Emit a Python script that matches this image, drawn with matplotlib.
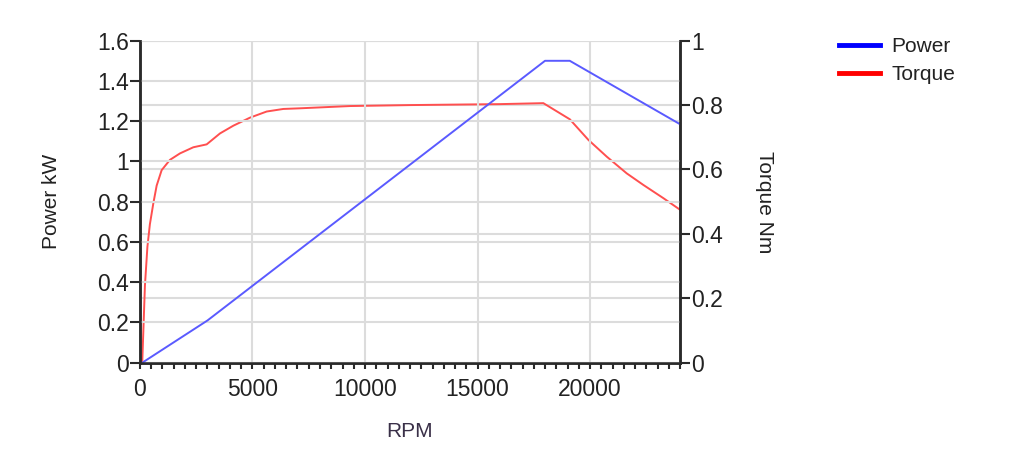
import matplotlib.pyplot as plt
from matplotlib.lines import Line2D
from matplotlib.ticker import MultipleLocator, FuncFormatter

plt.rcParams['font.family'] = ['Liberation Sans', 'DejaVu Sans']

# data
rpm_power = [100, 3000, 18000, 19100, 24000]
power_kw = [0, 0.21, 1.5, 1.5, 1.185]

rpm_torque = [100, 220, 330, 440, 593, 741, 963, 1333, 1778, 2370, 2963,
              3556, 4148, 4889, 5630, 6370, 7111, 9330, 12000, 16000, 17926,
              19100, 19926, 20741, 21630, 22370, 23259, 24000]
torque_nm = [0, 0.24, 0.36, 0.43, 0.495, 0.55, 0.598, 0.63, 0.65, 0.669,
             0.678, 0.712, 0.736, 0.761, 0.78, 0.788, 0.79, 0.797, 0.8,
             0.803, 0.806, 0.756, 0.692, 0.64, 0.588, 0.552, 0.511, 0.475]

TXT = "#222222"
GRID = "#dcdcdc"
AX_COL = "#2a2a2a"

fig = plt.figure(figsize=(10.1, 4.57), dpi=100)
ax = fig.add_axes([0.1386, 0.2063, 0.5347, 0.7047])
ax2 = ax.twinx()
# torque axis behind, power axis on top with see-through background
ax.set_zorder(ax2.get_zorder() + 1)
ax.patch.set_visible(False)

fmt = FuncFormatter(lambda v, p: "%g" % round(v, 2))

ax.plot(rpm_power, power_kw, color="#5a5aff", lw=1.4, solid_joinstyle="round")
ax2.plot(rpm_torque, torque_nm, color="#ff4f4f", lw=1.4, solid_joinstyle="round")

ax.set_xlim(0, 24000)
ax.set_ylim(0, 1.6)
ax2.set_ylim(0, 1.0)

ax.xaxis.set_major_locator(MultipleLocator(5000))
ax.xaxis.set_minor_locator(MultipleLocator(500))
ax.yaxis.set_major_locator(MultipleLocator(0.2))
ax2.yaxis.set_major_locator(MultipleLocator(0.2))
ax.yaxis.set_major_formatter(fmt)
ax2.yaxis.set_major_formatter(fmt)

ax.grid(True, which="major", color=GRID, lw=1.5)
ax2.grid(True, axis="y", color=GRID, lw=1.5)
ax2.set_axisbelow(True)

for a in (ax, ax2):
    a.spines["top"].set_visible(False)
    for s in ("left", "right", "bottom"):
        a.spines[s].set_color(AX_COL)
        a.spines[s].set_linewidth(1.8)

ax.tick_params(axis="y", length=7, width=1.5, color=AX_COL, pad=1,
               labelsize=16.5, labelcolor=TXT)
ax2.tick_params(axis="y", length=7, width=1.5, color=AX_COL, pad=1,
                labelsize=16.5, labelcolor=TXT)
ax.tick_params(axis="x", which="both", length=4, width=1.5, color=AX_COL,
               pad=7, labelsize=16.5, labelcolor=TXT)

ax.set_xlabel("RPM", fontsize=15, color="#3a3048", labelpad=15)
ax.set_ylabel("Power kW", fontsize=15, color=TXT, labelpad=26)
ax2.set_ylabel("Torque Nm", fontsize=15, color=TXT, rotation=270, labelpad=37)

handles = [Line2D([], [], color="#0000ff", lw=3.5),
           Line2D([], [], color="#ff0000", lw=3.5)]
fig.legend(handles, ["Power", "Torque"], loc="upper left",
           bbox_to_anchor=(0.82, 0.942), frameon=False, fontsize=15,
           handlelength=2.0, handletextpad=0.55, labelspacing=0.45,
           borderpad=0, labelcolor=TXT)

fig.savefig("out.png", dpi=100)
